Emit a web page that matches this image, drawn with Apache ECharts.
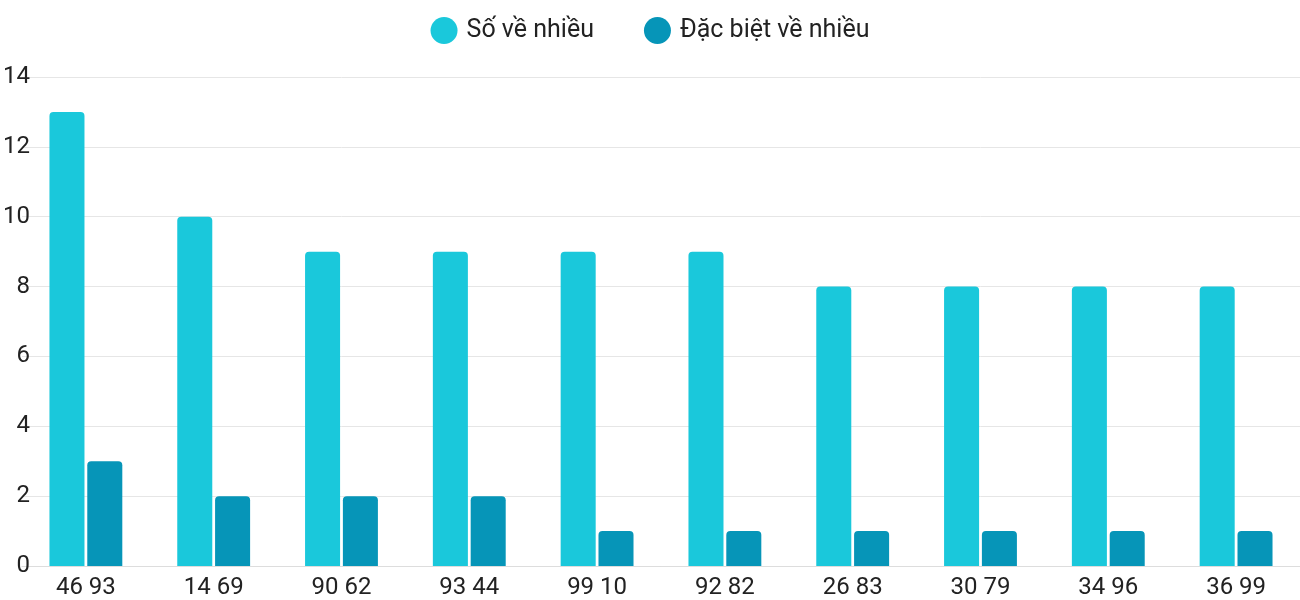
<!DOCTYPE html>
<html><head><meta charset="utf-8">
<script src="https://cdn.jsdelivr.net/npm/echarts@6/dist/echarts.min.js"></script>
<style>html,body{margin:0;padding:0;background:#fff}#c{width:1300px;height:600px}</style>
</head><body><div id="c"></div>
<script>
var categories = ['46 93','14 69','90 62','93 44','99 10','92 82','26 83','30 79','34 96','36 99'];
var soVeNhieu = [13,10,9,9,9,9,8,8,8,8];
var dacBiet = [3,2,2,2,1,1,1,1,1,1];

var chart = echarts.init(document.getElementById('c'));
var font = 'Roboto';
chart.setOption({
  animation: false,
  textStyle: { fontFamily: font },
  legend: {
    top: 12, left: 'center', icon: 'circle', itemWidth: 27, itemHeight: 27, itemGap: 50,
    textStyle: { fontSize: 25, color: '#222', fontFamily: font, padding: [0, 0, 0, 4] }
  },
  grid: { left: 20, width: 1310, top: 77, bottom: 34 },
  xAxis: {
    type: 'category', data: categories,
    axisTick: { show: false },
    axisLine: { lineStyle: { color: '#ddd' } },
    axisLabel: { fontSize: 24, color: '#222', margin: 10, fontFamily: font }
  },
  yAxis: {
    type: 'value', min: 0, max: 14, interval: 2,
    axisLabel: { fontSize: 24, color: '#222', align: 'right', margin: -8, fontFamily: font },
    splitLine: { lineStyle: { color: '#e6e6e6' } }
  },
  series: [
    { name: 'Số về nhiều', type: 'bar', data: soVeNhieu, barGap: '8%', barCategoryGap: '43%',
      itemStyle: { color: '#1ac8db', borderRadius: [4,4,0,0] } },
    { name: 'Đặc biệt về nhiều', type: 'bar', data: dacBiet,
      itemStyle: { color: '#0695b8', borderRadius: [4,4,0,0] } }
  ]
});
</script></body></html>
